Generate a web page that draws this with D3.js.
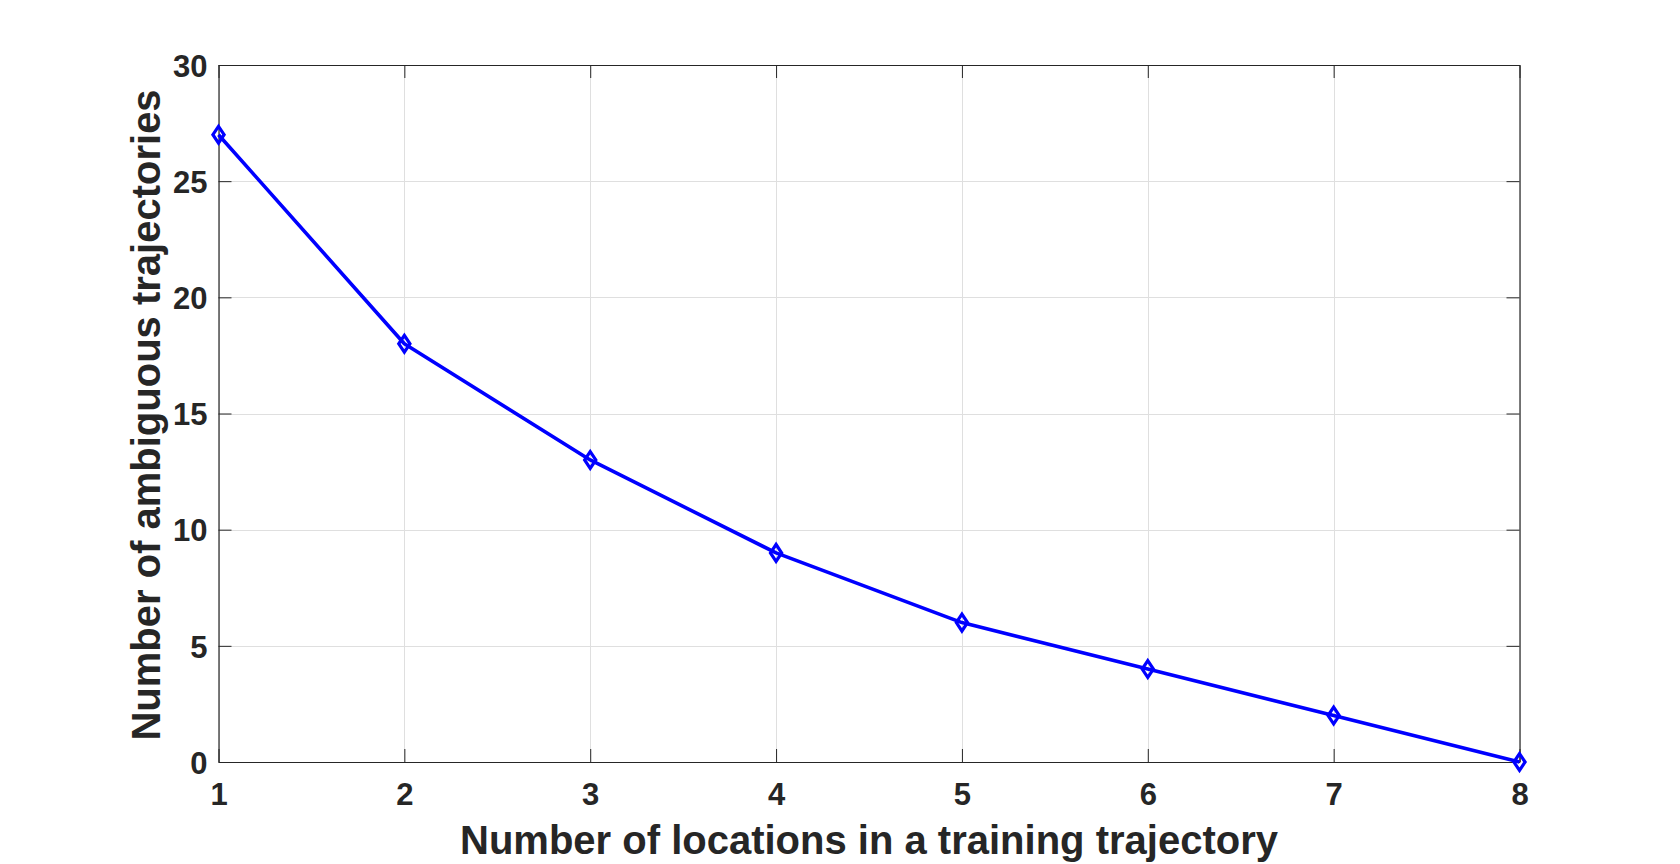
<!DOCTYPE html>
<html>
<head>
<meta charset="utf-8">
<script src="https://cdn.jsdelivr.net/npm/d3@7"></script>
<style>
html,body{margin:0;padding:0;background:#fff;}
svg{display:block;}
text{font-family:"Liberation Sans",Arial,Helvetica,sans-serif;font-weight:bold;fill:#262626;}
</style>
</head>
<body>
<svg id="chart" width="1680" height="864"></svg>
<script>
const xValues = [1, 2, 3, 4, 5, 6, 7, 8];
const yValues = [27, 18, 13, 9, 6, 4, 2, 0];
const xTicks = [1, 2, 3, 4, 5, 6, 7, 8];
const yTicks = [0, 5, 10, 15, 20, 25, 30];
const xLabel = "Number of locations in a training trajectory";
const yLabel = "Number of ambiguous trajectories";

const W = 1680, H = 864;
const L = 218.5, R = 1519.5, T = 65, B = 762;
const svg = d3.select("#chart");

const x = d3.scaleLinear().domain([1, 8]).range([L, R]);
const y = d3.scaleLinear().domain([0, 30]).range([B, T]);

const axisColor = "#262626";
const gridColor = "#dfdfdf";
const tickLen = 13;

// grid
const grid = svg.append("g");
grid.selectAll("line.gx").data(xTicks).enter().append("line")
  .attr("x1", d => Math.round(x(d)) + 0.5).attr("x2", d => Math.round(x(d)) + 0.5)
  .attr("y1", T).attr("y2", B)
  .attr("stroke", gridColor).attr("stroke-width", 1);
grid.selectAll("line.gy").data(yTicks).enter().append("line")
  .attr("y1", d => Math.round(y(d)) + 0.5).attr("y2", d => Math.round(y(d)) + 0.5)
  .attr("x1", L).attr("x2", R)
  .attr("stroke", gridColor).attr("stroke-width", 1);

// axes via d3 axis (ticks inside)
const fmt = d3.format("d");
const axB = svg.append("g").attr("transform", `translate(0,${B})`)
  .call(d3.axisBottom(x).tickValues(xTicks).tickFormat(fmt).tickSizeInner(-tickLen).tickSizeOuter(0).tickPadding(21));
const axT = svg.append("g").attr("transform", `translate(0,${T})`)
  .call(d3.axisTop(x).tickValues(xTicks).tickFormat("").tickSizeInner(-tickLen).tickSizeOuter(0));
const axL = svg.append("g").attr("transform", `translate(${L},0)`)
  .call(d3.axisLeft(y).tickValues(yTicks).tickFormat(fmt).tickSizeInner(-tickLen).tickSizeOuter(0).tickPadding(11));
const axR = svg.append("g").attr("transform", `translate(${R},0)`)
  .call(d3.axisRight(y).tickValues(yTicks).tickFormat("").tickSizeInner(-tickLen).tickSizeOuter(0));

[axB, axT, axL, axR].forEach(a => {
  a.select(".domain").attr("stroke", axisColor).attr("stroke-width", 1.2);
  a.selectAll(".tick line").attr("stroke", axisColor).attr("stroke-width", 1);
  a.selectAll(".tick text").style("font-size", "31px").style("font-family", "'Liberation Sans',Arial,sans-serif")
    .style("font-weight", "bold").attr("fill", axisColor);
});
axB.selectAll(".tick text").attr("dy", "0.71em");
axL.selectAll(".tick text").attr("dy", "0.36em");

// line
const line = d3.line().x((d, i) => x(xValues[i])).y(d => y(d));
svg.append("path").datum(yValues)
  .attr("d", line).attr("fill", "none")
  .attr("stroke", "#0000ff").attr("stroke-width", 3.6).attr("stroke-linejoin", "round");

// diamond markers
const hw = 5.6, hh = 8.4;
svg.selectAll("path.mk").data(yValues).enter().append("path")
  .attr("class", "mk")
  .attr("d", (d, i) => {
    const cx = x(xValues[i]), cy = y(d);
    return `M${cx},${cy - hh}L${cx + hw},${cy}L${cx},${cy + hh}L${cx - hw},${cy}Z`;
  })
  .attr("fill", "none").attr("stroke", "#0000ff").attr("stroke-width", 3.2);

// labels
svg.append("text").attr("x", (L + R) / 2).attr("y", 854)
  .attr("text-anchor", "middle").style("font-size", "40px").text(xLabel);
svg.append("text").attr("transform", `translate(160,${415}) rotate(-90)`)
  .attr("text-anchor", "middle").style("font-size", "40px").text(yLabel);
</script>
</body>
</html>
